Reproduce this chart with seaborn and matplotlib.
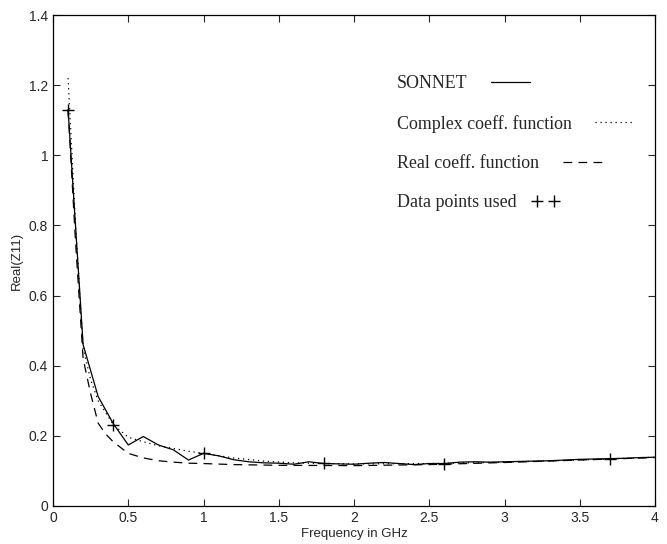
import numpy as np
import pandas as pd
import matplotlib
matplotlib.use("Agg")
import matplotlib.pyplot as plt
from matplotlib.legend_handler import HandlerLine2D
import seaborn as sns

# SONNET simulation (0.1 GHz steps)
sonnet_freq = [0.1, 0.2, 0.3, 0.4, 0.5, 0.6, 0.7, 0.8, 0.9, 1.0,
               1.1, 1.2, 1.3, 1.4, 1.5, 1.6, 1.7, 1.8, 1.9, 2.0,
               2.1, 2.2, 2.3, 2.4, 2.5, 2.6, 2.7, 2.8, 2.9, 3.0,
               3.1, 3.2, 3.3, 3.4, 3.5, 3.6, 3.7, 3.8, 3.9, 4.0]
sonnet_re = [1.13, 0.46, 0.312, 0.235, 0.174, 0.198, 0.174, 0.160, 0.131, 0.150,
             0.143, 0.132, 0.126, 0.123, 0.122, 0.119, 0.126, 0.121, 0.120, 0.119,
             0.122, 0.124, 0.121, 0.118, 0.121, 0.121, 0.125, 0.126, 0.125, 0.126,
             0.127, 0.128, 0.129, 0.131, 0.133, 0.134, 0.135, 0.136, 0.138, 0.139]

# Complex coefficient fit
complex_freq = [0.1, 0.15, 0.2, 0.25, 0.3, 0.4, 0.5, 0.6, 0.7, 0.8, 0.9, 1.0,
                1.2, 1.4, 1.6, 1.8, 2.0, 2.5, 3.0, 3.5, 4.0]
complex_re = [1.22, 0.80, 0.45, 0.36, 0.30, 0.232, 0.196, 0.183, 0.172, 0.164, 0.156, 0.150,
              0.137, 0.128, 0.123, 0.121, 0.120, 0.121, 0.125, 0.131, 0.139]

# Real coefficient fit
real_freq = [0.1, 0.15, 0.2, 0.25, 0.3, 0.35, 0.4, 0.5, 0.6, 0.7, 0.8, 0.9, 1.0,
             1.2, 1.5, 2.0, 2.5, 3.0, 3.5, 4.0]
real_re = [1.13, 0.75, 0.42, 0.32, 0.236, 0.205, 0.183, 0.150, 0.137, 0.129, 0.125, 0.122, 0.121,
           0.118, 0.116, 0.115, 0.118, 0.124, 0.131, 0.138]

# Data points used for the fit
pts_freq = [0.1, 0.4, 1.0, 1.8, 2.6, 3.7]
pts_re = [1.13, 0.231, 0.150, 0.122, 0.121, 0.135]


class HandlerNearPlus(HandlerLine2D):
    """Two plus markers packed close to the label, like '+ +'."""

    def get_xdata(self, legend, xdescent, ydescent, width, height, fontsize):
        x0 = -xdescent
        xdata = np.array([x0 + 0.1 * fontsize, x0 + 1.05 * fontsize])
        return xdata, xdata


sns.set_style("ticks", {"xtick.direction": "in", "ytick.direction": "in"})
plt.rcParams["font.family"] = ["Liberation Sans", "DejaVu Sans"]

fig = plt.figure(figsize=(6.67, 5.44), dpi=100)
ax = fig.add_axes([0.0795, 0.0699, 0.9025, 0.9025])

sns.lineplot(x=sonnet_freq, y=sonnet_re, ax=ax, color="black", linewidth=0.9,
             label="SONNET")
sns.lineplot(x=complex_freq, y=complex_re, ax=ax, color="black", linewidth=0.9,
             linestyle=(0, (1, 3)), label="Complex coeff. function")
sns.lineplot(x=real_freq, y=real_re, ax=ax, color="black", linewidth=0.9,
             linestyle=(0, (7, 5)), label="Real coeff. function")
pts_line, = ax.plot(pts_freq, pts_re, linestyle="none", marker="+", markersize=8,
                    markeredgewidth=1.0, color="black", label="Data points used")

ax.set_xlim(0, 4)
ax.set_ylim(0, 1.4)
ax.set_xticks(np.arange(0, 4.01, 0.5))
ax.set_xticklabels(["0", "0.5", "1", "1.5", "2", "2.5", "3", "3.5", "4"])
ax.set_yticks(np.arange(0, 1.41, 0.2))
ax.set_yticklabels(["0", "0.2", "0.4", "0.6", "0.8", "1", "1.2", "1.4"])
ax.tick_params(axis="both", which="both", direction="in", top=True, right=True,
               length=5, width=0.8, labelsize=10)
for spine in ax.spines.values():
    spine.set_visible(True)
    spine.set_linewidth(0.9)
    spine.set_color("black")

ax.set_xlabel("Frequency in GHz", fontsize=9.5, labelpad=2)
ax.set_ylabel("Real(Z11)", fontsize=9.5, labelpad=4)

leg = ax.legend(loc="upper left", bbox_to_anchor=(0.545, 0.91), frameon=False,
                markerfirst=False, labelspacing=1.25, handlelength=2.8,
                handletextpad=1.0, numpoints=2,
                handler_map={pts_line: HandlerNearPlus(numpoints=2)},
                prop={"family": "Liberation Serif", "size": 12.9})
# left-align the label column so each sample sits right after its text
for col in leg._legend_handle_box.get_children():
    col.align = "left"

fig.savefig("out.png", dpi=100)
